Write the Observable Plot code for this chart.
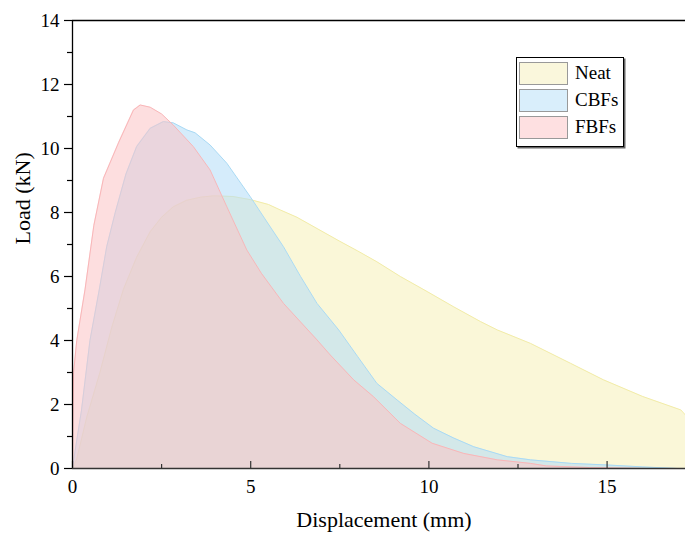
<!DOCTYPE html>
<html><head><meta charset="utf-8">
<script src="https://cdn.jsdelivr.net/npm/d3@7"></script>
<script src="https://cdn.jsdelivr.net/npm/@observablehq/plot@0.6"></script>
<style>
body{margin:0;background:#fff;}
#wrap{position:relative;width:685px;height:533px;}
#wrap svg text{font-family:"Liberation Serif","Times New Roman",serif !important;}
#legend{position:absolute;left:516px;top:57px;width:106px;height:88px;border:1px solid #000;box-shadow:1.5px 1.5px 0 #666;background:#fff;font-family:"Liberation Serif",serif;font-size:19px;color:#000;}
.sw{position:absolute;left:2px;width:47px;height:21px;border:1px solid #999;}
.lb{position:absolute;left:58px;line-height:23px;}
</style>
</head><body>
<div id="wrap"></div>
<script>
// ---- data ----
const seriesNames = ["Neat", "CBFs", "FBFs"];
const neatDisp = [0, 0.12, 0.4, 0.77, 1.1, 1.43, 1.8, 2.18, 2.5, 2.83, 3.2, 3.6, 3.96, 4.5, 5.0, 5.5, 5.83, 6.3, 6.86, 7.5, 8.0, 8.54, 9.2, 9.95, 10.7, 11.45, 11.92, 12.85, 13.97, 14.9, 16.0, 17.07, 17.2];
const neatLoad = [0, 0.3, 1.6, 3.0, 4.4, 5.6, 6.6, 7.4, 7.85, 8.18, 8.38, 8.48, 8.52, 8.5, 8.4, 8.25, 8.08, 7.85, 7.5, 7.1, 6.8, 6.46, 6.0, 5.53, 5.05, 4.59, 4.33, 3.91, 3.29, 2.77, 2.25, 1.83, 1.67];
const cbfDisp = [0, 0.02, 0.25, 0.49, 0.75, 0.96, 1.2, 1.5, 1.8, 2.18, 2.55, 2.83, 3.21, 3.44, 3.86, 4.33, 4.99, 5.4, 5.92, 6.4, 6.86, 7.47, 8.0, 8.54, 9.11, 9.6, 10.13, 10.7, 11.26, 12.2, 12.85, 14.0, 15.0, 16.0, 16.97];
const cbfLoad = [0, 0.17, 1.8, 4.0, 5.58, 6.93, 8.0, 9.2, 10.06, 10.63, 10.84, 10.8, 10.58, 10.49, 10.11, 9.54, 8.49, 7.8, 6.93, 6.0, 5.16, 4.33, 3.5, 2.66, 2.14, 1.7, 1.26, 0.95, 0.68, 0.37, 0.27, 0.16, 0.11, 0.05, 0];
const fbfDisp = [0, 0.03, 0.12, 0.35, 0.6, 0.87, 1.3, 1.71, 1.9, 2.18, 2.5, 2.83, 3.39, 3.86, 4.33, 4.89, 5.3, 5.92, 6.86, 7.23, 7.89, 8.45, 9.2, 10.09, 10.98, 11.92, 12.85, 13.3, 14.5, 16.1];
const fbfLoad = [0, 3.0, 4.0, 5.58, 7.6, 9.07, 10.2, 11.2, 11.36, 11.29, 11.08, 10.73, 10.06, 9.33, 8.18, 6.83, 6.1, 5.16, 4.02, 3.55, 2.77, 2.24, 1.41, 0.79, 0.47, 0.27, 0.16, 0.08, 0.03, 0];
const xDomain = [0, 17.2];
const yDomain = [0, 14];
const xMajor = [0, 5, 10, 15];
const xMinor = [2.5, 7.5, 12.5];
const yMajor = [0, 2, 4, 6, 8, 10, 12, 14];
const yMinor = [1, 3, 5, 7, 9, 11, 13];
const xTitle = "Displacement (mm)";
const yTitle = "Load (kN)";

// ---- styles ----
const fills = {Neat: "#f5f0b8", CBFs: "#b3ddf7", FBFs: "#fcc2c4"};
const strokes = {Neat: "#f2eca8", CBFs: "#a9daf5", FBFs: "#f9b6b8"};
const swatch = {Neat: "#faf7dc", CBFs: "#d9eefb", FBFs: "#fee0e1"};

const mk = (d, l) => d.map((x, i) => ({x, y: l[i]}));
const series = {Neat: mk(neatDisp, neatLoad), CBFs: mk(cbfDisp, cbfLoad), FBFs: mk(fbfDisp, fbfLoad)};

const marks = [];
for (const name of seriesNames) {
  marks.push(Plot.areaY(series[name], {x: "x", y: "y", fill: fills[name], fillOpacity: 0.55, curve: "linear"}));
  marks.push(Plot.line(series[name], {x: "x", y: "y", stroke: strokes[name], strokeWidth: 1}));
}
const font = "Liberation Serif";
marks.push(
  Plot.axisY({ticks: yMajor, tickSize: 8, tickPadding: 5, fontSize: 19, fontFamily: font, label: null, stroke: "#000", strokeWidth: 1.2}),
  Plot.axisY({ticks: yMinor, tickSize: 5, text: null, label: null, stroke: "#000", strokeWidth: 1.2}),
  Plot.axisX({ticks: xMajor, tickSize: 0, tickPadding: 11, fontSize: 19, fontFamily: font, label: null}),
  Plot.axisX({ticks: xMajor, tickSize: -7, text: null, label: null, stroke: "#333", strokeWidth: 1.2}),
  Plot.axisX({ticks: xMinor, tickSize: -4, text: null, label: null, stroke: "#333", strokeWidth: 1.2}),
  Plot.ruleX([xDomain[0]], {stroke: "#000", strokeWidth: 1.3}),
  Plot.ruleY([yDomain[0]], {stroke: "#333", strokeWidth: 1.3}),
  Plot.ruleY([yDomain[1]], {stroke: "#000", strokeWidth: 1.3}),
  Plot.text([xTitle], {frameAnchor: "bottom", dy: 58, dx: 5, fontSize: 22, fontFamily: font, fill: "#000"}),
  Plot.text([yTitle], {frameAnchor: "left", dx: -50, rotate: -90, fontSize: 22, fontFamily: font, fill: "#000"})
);

const chart = Plot.plot({
  width: 685, height: 533,
  marginLeft: 72, marginRight: 0, marginTop: 20, marginBottom: 65,
  style: {fontFamily: "'Liberation Serif', serif", background: "#fff", color: "#000"},
  x: {domain: xDomain, axis: null},
  y: {domain: yDomain, axis: null},
  marks
});
const wrap = document.getElementById("wrap");
wrap.appendChild(chart);

// legend overlay
const lg = document.createElement("div");
lg.id = "legend";
seriesNames.forEach((name, i) => {
  const s = document.createElement("div");
  s.className = "sw";
  s.style.top = (4 + 27 * i) + "px";
  s.style.background = swatch[name];
  lg.appendChild(s);
  const t = document.createElement("div");
  t.className = "lb";
  t.style.top = (3 + 27 * i) + "px";
  t.textContent = name;
  lg.appendChild(t);
});
wrap.appendChild(lg);
</script>
</body></html>
